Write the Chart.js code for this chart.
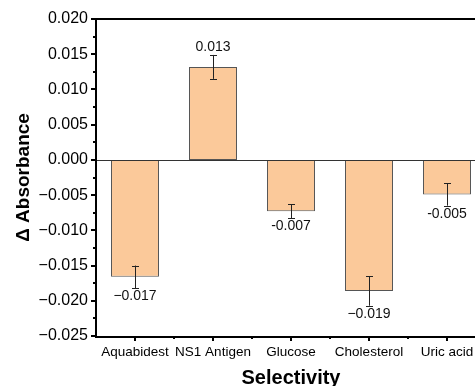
<!DOCTYPE html>
<html><head><meta charset="utf-8">
<script src="https://cdn.jsdelivr.net/npm/chart.js@4/dist/chart.umd.min.js"></script>
<style>
html,body{margin:0;padding:0;background:#fff;overflow:hidden;width:475px;height:386px}
#wrap{width:492px;height:386px;position:relative}
</style></head><body>
<div id="wrap"><canvas id="c"></canvas></div>
<script>
const categories = ['Aquabidest', 'NS1 Antigen', 'Glucose', 'Cholesterol', 'Uric acid'];
const values = [-0.0166, 0.0132, -0.0073, -0.0186, -0.0049];
const errors = [0.0016, 0.0017, 0.0010, 0.0021, 0.0016];
const valueLabels = ['\u22120.017', '0.013', '-0.007', '\u22120.019', '-0.005'];
const yMin = -0.025, yMax = 0.020, yStep = 0.005;

const FONT = '"Liberation Sans", Arial, sans-serif';
const fmt = v => { const s = Math.abs(v).toFixed(3); return (v < -1e-9 ? '\u2212' : '') + s; };

const decor = {
  id: 'decor',
  afterDatasetsDraw(chart) {
    const ctx = chart.ctx, a = chart.chartArea, x = chart.scales.x, y = chart.scales.y;
    ctx.save();
    ctx.strokeStyle = '#333'; ctx.lineWidth = 1;
    const z = Math.round(y.getPixelForValue(0)) + 0.5;
    ctx.beginPath(); ctx.moveTo(a.left, z); ctx.lineTo(a.right, z); ctx.stroke();
    ctx.strokeStyle = '#222'; ctx.lineWidth = 1;
    const meta = chart.getDatasetMeta(0);
    meta.data.forEach((bar, i) => {
      const cx = Math.round(bar.x) + 0.5;
      const t = y.getPixelForValue(values[i] + errors[i]);
      const b = y.getPixelForValue(values[i] - errors[i]);
      ctx.beginPath();
      ctx.moveTo(cx, t); ctx.lineTo(cx, b);
      ctx.moveTo(cx - 3.5, Math.round(t) + 0.5); ctx.lineTo(cx + 3.5, Math.round(t) + 0.5);
      ctx.moveTo(cx - 3.5, Math.round(b) + 0.5); ctx.lineTo(cx + 3.5, Math.round(b) + 0.5);
      ctx.stroke();
      ctx.fillStyle = '#111';
      ctx.font = '14px ' + FONT;
      ctx.textAlign = 'center';
      if (values[i] >= 0) { ctx.textBaseline = 'bottom'; ctx.fillText(valueLabels[i], bar.x, t - 1); }
      else { ctx.textBaseline = 'top'; ctx.fillText(valueLabels[i], bar.x, b + 1); }
    });
    ctx.strokeStyle = '#000'; ctx.lineWidth = 2;
    ctx.beginPath();
    ctx.moveTo(a.left, a.top); ctx.lineTo(a.right + 5, a.top);
    ctx.moveTo(a.left, a.top - 1); ctx.lineTo(a.left, a.bottom + 1);
    ctx.lineTo(a.right + 5, a.bottom + 1);
    ctx.stroke();
    for (let v = yMin; v <= yMax + 1e-9; v += yStep / 2) {
      const py = Math.round(y.getPixelForValue(v));
      const major = Math.abs(Math.round(v / yStep) * yStep - v) < 1e-9;
      ctx.beginPath(); ctx.moveTo(a.left, py); ctx.lineTo(a.left - (major ? 5 : 3), py); ctx.stroke();
    }
    const n = categories.length;
    for (let i = 0; i < n; i++) {
      const px = Math.round(x.getPixelForValue(i));
      ctx.beginPath(); ctx.moveTo(px, a.bottom); ctx.lineTo(px, a.bottom + 5); ctx.stroke();
      const mx = Math.round((x.getPixelForValue(i) + x.getPixelForValue(i + 1)) / 2);
      ctx.beginPath(); ctx.moveTo(mx, a.bottom); ctx.lineTo(mx, a.bottom + 3); ctx.stroke();
    }
    ctx.restore();
  }
};

new Chart(document.getElementById('c'), {
  type: 'bar',
  data: {
    labels: categories,
    datasets: [{
      data: values,
      backgroundColor: '#FBC99A',
      borderColor: '#555',
      borderWidth: 1,
      borderSkipped: false,
      categoryPercentage: 1,
      barPercentage: 0.615
    }]
  },
  plugins: [decor],
  options: {
    responsive: true,
    maintainAspectRatio: false,
    animation: false,
    layout: { padding: { top: 19, left: 0, right: 6, bottom: 0 } },
    plugins: { legend: { display: false }, tooltip: { enabled: false } },
    scales: {
      x: {
        grid: { display: false, drawTicks: false },
        border: { display: false },
        ticks: { color: '#000', font: { family: FONT, size: 13.5 }, padding: 8, maxRotation: 0, autoSkip: false },
        title: { display: true, text: 'Selectivity', color: '#000', font: { family: FONT, size: 20, weight: 'bold' }, padding: { top: 10, bottom: -4 } },
        afterFit(s) { s.height = 50; }
      },
      y: {
        min: yMin, max: yMax,
        grid: { display: false, drawTicks: false },
        border: { display: false },
        ticks: { stepSize: yStep, color: '#000', font: { family: FONT, size: 16 }, padding: 8, callback: v => fmt(v) },
        title: { display: true, text: '\u0394 Absorbance', color: '#000', font: { family: FONT, size: 19, weight: 'bold' }, padding: { top: 12, bottom: 4 } },
        afterFit(s) { s.width = 96; }
      }
    }
  }
});
</script></body></html>
